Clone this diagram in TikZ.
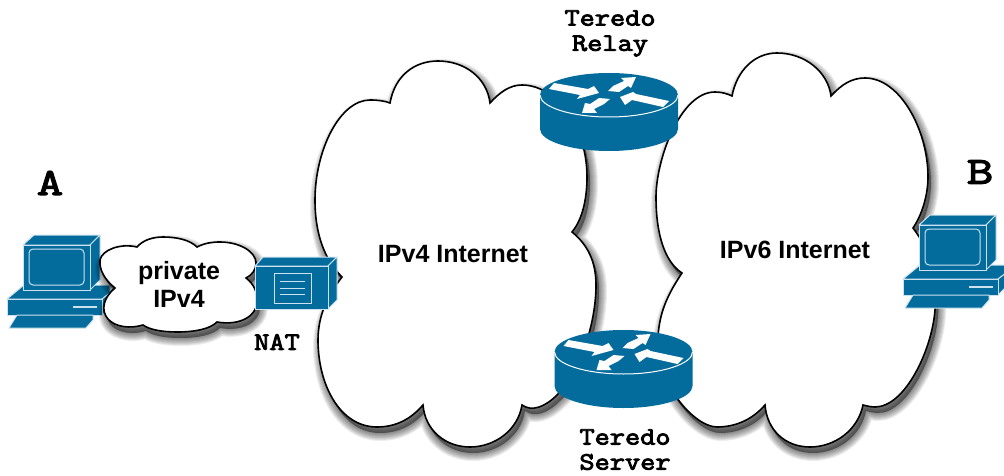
\documentclass[tikz,border=0pt]{standalone}
\usepackage{fontspec}
\setmainfont{Liberation Sans}
\newfontfamily\monofam{Latin Modern Mono}[FakeBold=3.5, FakeStretch=1.18]
\newfontfamily\bigfam{Latin Modern Mono}[FakeBold=3.5, FakeStretch=1.35]
\usepackage{xcolor}
\definecolor{devblue}{RGB}{3,108,157}
\definecolor{edgeblue}{RGB}{205,226,238}
\newcommand{\cloudfour}{(390,103) .. controls (395,75) and (415,61) .. (438,61) .. controls (465,61) and (487,78) .. (490,103)
	.. controls (500,92) and (510,85) .. (522,85) .. controls (555,85) and (587,125) .. (587,177) .. controls (587,200) and (582,220) .. (572,232)
	.. controls (588,245) and (596,262) .. (596,285) .. controls (596,330) and (575,380) .. (557,395) .. controls (545,407) and (532,412) .. (522,405)
	.. controls (518,430) and (495,447) .. (470,447) .. controls (445,447) and (425,430) .. (423,405) .. controls (410,420) and (395,427) .. (377,427)
	.. controls (340,427) and (318,385) .. (318,340) .. controls (318,315) and (328,295) .. (342,277) .. controls (325,260) and (315,235) .. (315,200)
	.. controls (315,150) and (340,100) .. (370,100) .. controls (378,100) and (385,101) .. (390,103)}
\newcommand{\cloudsix}{(732,96) .. controls (737,70) and (755,53) .. (777,53) .. controls (805,53) and (828,72) .. (831,96)
	.. controls (842,84) and (852,78) .. (865,78) .. controls (900,78) and (928,130) .. (928,177) .. controls (928,195) and (922,215) .. (913,228)
	.. controls (930,250) and (938,280) .. (935,310) .. controls (932,350) and (905,407) .. (875,407) .. controls (871,407) and (867,406) .. (863,405)
	.. controls (858,430) and (835,447) .. (810,447) .. controls (785,447) and (767,430) .. (765,405) .. controls (752,420) and (735,427) .. (717,427)
	.. controls (705,427) and (690,415) .. (680,402) .. controls (665,385) and (655,350) .. (659,327) .. controls (662,305) and (672,288) .. (682,273)
	.. controls (665,262) and (656,235) .. (656,197) .. controls (656,160) and (680,92) .. (715,92) .. controls (722,92) and (728,94) .. (732,96)}
\newcommand{\cloudpriv}{(115,288) .. controls (105,280) and (99,270) .. (100,260) .. controls (102,250) and (120,243) .. (137,247)
	.. controls (143,240) and (153,237) .. (163,237) .. controls (177,237) and (190,240) .. (197,247) .. controls (205,243) and (212,242) .. (220,242)
	.. controls (240,242) and (256,252) .. (256,263) .. controls (256,270) and (252,275) .. (246,278) .. controls (254,284) and (258,293) .. (257,303)
	.. controls (256,316) and (240,326) .. (217,322) .. controls (210,329) and (195,332) .. (177,332) .. controls (163,332) and (150,330) .. (143,325)
	.. controls (130,329) and (115,327) .. (108,319) .. controls (100,310) and (104,297) .. (115,288)}
\newcommand{\softshadow}[1]{\foreach \w in {16,14,12,10,8,6,4,2}{
		\filldraw[black, draw opacity=.07, fill opacity=.07, line width=\w pt, line join=round, shift={(3,6)}] #1 -- cycle;}}
\tikzset{
	cloudline/.style={draw=black, fill=white, line width=1.6pt},
	devface/.style={fill=devblue, draw=edgeblue, line width=1pt, line join=round},
	monotext/.style={font=\monofam\fontsize{25}{26}\selectfont, align=center, inner sep=0pt},
	bigletter/.style={font=\bigfam\fontsize{38}{38}\selectfont, inner sep=0pt},
	sanstext/.style={font=\bfseries\fontsize{25}{28}\selectfont, align=center, inner sep=0pt},
	pics/computer/.style={code={
			\draw[devface] (7,299) -- (24,285) -- (110,285) -- (110,293) -- (102,299) -- cycle;
			\draw[devface] (102,299) -- (110,293) -- (110,307) -- (102,315) -- cycle;
			\draw[devface] (7,299) rectangle (102,315);
			\draw[edgeblue, line width=1.2pt] (73,307) -- (97,307);
			\draw[devface] (17,315) -- (93,315) -- (93,320) -- (86,328) -- (9,328) -- cycle;
			\draw[devface] (23,245) -- (34,235) -- (100,235) -- (90,245) -- cycle;
			\draw[devface] (90,245) -- (100,235) -- (100,280) -- (90,290) -- cycle;
			\draw[devface] (23,245) rectangle (90,290);
			\draw[devface, rounded corners=4pt] (29,249) rectangle (84,285);
	}},
	pics/router/.style={code={
			\fill[devblue] (-69,0) -- (-69,34) .. controls (-69,46) and (-38,56) .. (0,56) .. controls (38,56) and (69,46) .. (69,34) -- (69,0)
				.. controls (69,-12) and (38,-22) .. (0,-22) .. controls (-38,-22) and (-69,-12) .. (-69,0) -- cycle;
			\draw[white, line width=1pt] (-69,0) .. controls (-69,12) and (-38,22) .. (0,22) .. controls (38,22) and (69,12) .. (69,0);
			\fill[white] (-55,-12) -- (-60,-6) -- (-29,0) -- (-32,4) -- (-10,-2) -- (-15,-9) -- (-21,-6) -- cycle;
			\fill[white] (-1,-4) -- (10,-3) -- (19,-9) -- (22,-7) -- (27,-18) -- (12,-17) -- (15,-14) -- (4,-9) -- cycle;
			\fill[white] (60,6) -- (54,12) -- (23,5) -- (16,10) -- (11,2) -- (24,-3) -- (27,-1) -- cycle;
			\fill[white] (1,4) -- (-10,3) -- (-19,9) -- (-24,8) -- (-27,18) -- (-12,18) -- (-15,14) -- (-5,9) -- cycle;
	}}
}
\begin{document}
\begin{tikzpicture}[x=1pt, y=-1pt]
	\useasboundingbox (0,0) rectangle (1004,476);
	% clouds
	\softshadow{\cloudfour}
	\draw[cloudline] \cloudfour -- cycle;
	\softshadow{\cloudsix}
	\draw[cloudline] \cloudsix -- cycle;
	\pic (hosta) at (0,0) {computer};
	\softshadow{\cloudpriv}
	\draw[cloudline] \cloudpriv -- cycle;
	% NAT box
	\draw[devface] (255,266) -- (263,257) -- (337,257) -- (328,266) -- cycle;
	\draw[devface] (328,266) -- (337,257) -- (337,300) -- (328,309) -- cycle;
	\draw[devface] (255,266) rectangle (328,309);
	\draw[devface] (274,273) rectangle (311,303);
	\foreach \y in {281,288,294}
		\draw[edgeblue, line width=1pt] (280,\y) -- (305,\y);
	% devices on the right
	\pic (hostb) at (896,-20) {computer};
	\pic (relay) at (609,95) {router};
	\pic (server) at (623.5,352) {router};
	% labels
	\node[bigletter] (labela) at (50,183) {A};
	\node[bigletter] (labelb) at (980,172) {B};
	\node[monotext] (labelteredoa) at (610,18) {Teredo};
	\node[monotext] (labelrelay) at (610,46) {Relay};
	\node[monotext] (labelteredob) at (625,437) {Teredo};
	\node[monotext] (labelserver) at (625,462) {Server};
	\node[monotext] (labelnat) at (277,342) {NAT};
	\node[sanstext] (labelpriv) at (179,284) {private\\IPv4};
	\node[sanstext] (labelfour) at (453,254) {IPv4 Internet};
	\node[sanstext] (labelsix) at (795,250) {IPv6 Internet};
\end{tikzpicture}
\end{document}
